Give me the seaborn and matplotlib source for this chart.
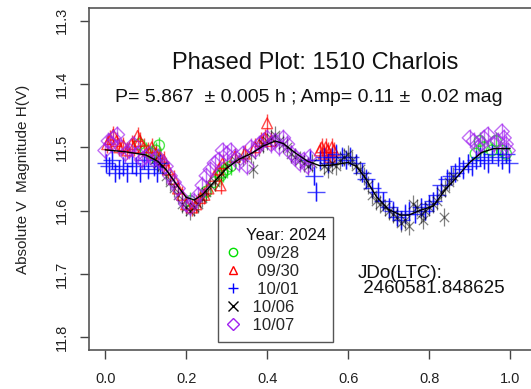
import matplotlib
matplotlib.use("Agg")
import matplotlib.pyplot as plt
import seaborn as sns
import numpy as np
import pandas as pd
from matplotlib.lines import Line2D
from matplotlib.patches import Rectangle

# ---------------- data ----------------
title = "Phased Plot: 1510 Charlois"
subtitle = "P= 5.867  \u00b1 0.005 h ; Amp= 0.11 \u00b1  0.02 mag"
jdo_text = "JDo(LTC):\n 2460581.848625"
legend_title = "Year: 2024"
series_labels = ["  09/28", "  09/30", "  10/01", " 10/06", " 10/07"]
x_ticks = [0.0, 0.2, 0.4, 0.6, 0.8, 1.0]
y_ticks = [11.3, 11.4, 11.5, 11.6, 11.7, 11.8]
y_label = "Absolute V  Magnitude H(V)"

g_phase = [0.085, 0.10, 0.115, 0.125, 0.133, 0.21, 0.25, 0.27, 0.285, 0.29, 0.30, 0.31,
           0.915, 0.925, 0.935, 0.955, 0.965, 0.98, 0.99]
g_mag = [11.495, 11.505, 11.51, 11.505, 11.497, 11.585, 11.57, 11.555, 11.545, 11.54, 11.535, 11.53,
         11.51, 11.49, 11.50, 11.505, 11.49, 11.505, 11.51]

r_phase = [0.005, 0.012, 0.02, 0.028, 0.035, 0.045, 0.055, 0.065, 0.07, 0.08, 0.085, 0.095,
           0.105, 0.115, 0.125, 0.135, 0.145, 0.155, 0.17, 0.18, 0.19, 0.20, 0.215, 0.225,
           0.235, 0.245, 0.255, 0.27, 0.28, 0.285, 0.29, 0.32, 0.345, 0.37, 0.385, 0.395,
           0.40, 0.41, 0.53, 0.535, 0.54, 0.545, 0.55, 0.555, 0.56, 0.565]
r_mag = [11.495, 11.487, 11.48, 11.49, 11.50, 11.497, 11.505, 11.495, 11.50, 11.482, 11.49, 11.50,
         11.505, 11.50, 11.51, 11.515, 11.52, 11.535, 11.55, 11.565, 11.575, 11.59, 11.595, 11.59,
         11.58, 11.575, 11.565, 11.545, 11.535, 11.56, 11.525, 11.515, 11.51, 11.50, 11.49, 11.485,
         11.462, 11.49, 11.505, 11.50, 11.51, 11.50, 11.505, 11.515, 11.50, 11.505]

b_phase = [0.003, 0.01, 0.018, 0.025, 0.035, 0.045, 0.055, 0.065, 0.075, 0.085, 0.095, 0.105,
           0.12, 0.128, 0.135,
           0.505, 0.515, 0.52, 0.53, 0.54, 0.55, 0.56, 0.57, 0.585, 0.595, 0.605, 0.62, 0.635,
           0.645, 0.66, 0.675, 0.685, 0.70, 0.71, 0.72, 0.73, 0.74, 0.75, 0.765, 0.78, 0.79,
           0.80, 0.81, 0.82, 0.83, 0.845, 0.855, 0.865,
           0.875, 0.885, 0.895, 0.905, 0.915, 0.925, 0.935, 0.945, 0.955, 0.97, 0.98, 0.99, 0.998]
b_mag = [11.525, 11.53, 11.52, 11.54, 11.535, 11.53, 11.54, 11.525, 11.53, 11.54, 11.52, 11.535,
         11.53, 11.54, 11.525,
         11.52, 11.545, 11.57, 11.52, 11.515, 11.525, 11.515, 11.51, 11.515, 11.52, 11.515, 11.525, 11.54,
         11.55, 11.565, 11.57, 11.585, 11.595, 11.60, 11.61, 11.615, 11.605, 11.60, 11.605, 11.595, 11.60,
         11.59, 11.585, 11.575, 11.56, 11.55, 11.545, 11.54,
         11.53, 11.535, 11.525, 11.53, 11.52, 11.515, 11.52, 11.525, 11.51, 11.515, 11.52, 11.51, 11.525]

k_phase = [0.12, 0.13, 0.14, 0.15, 0.16, 0.17, 0.18, 0.19, 0.20, 0.21, 0.22, 0.23, 0.24, 0.25,
           0.26, 0.27, 0.285, 0.30, 0.32, 0.34, 0.36, 0.365, 0.38, 0.39, 0.40, 0.41, 0.42, 0.43,
           0.44, 0.45, 0.46, 0.47, 0.48, 0.49, 0.50, 0.51,
           0.54, 0.55, 0.56, 0.57, 0.58, 0.59, 0.60, 0.61, 0.62, 0.63, 0.64, 0.65, 0.66, 0.67,
           0.68, 0.69, 0.70, 0.71, 0.72, 0.73, 0.74, 0.75, 0.76, 0.77, 0.78, 0.785, 0.79, 0.80,
           0.81, 0.82, 0.83, 0.838, 0.84, 0.85, 0.86]
k_mag = [11.52, 11.525, 11.53, 11.545, 11.555, 11.565, 11.575, 11.59, 11.595, 11.60, 11.595, 11.59,
         11.58, 11.57, 11.56, 11.555, 11.54, 11.53, 11.52, 11.515, 11.51, 11.535, 11.50, 11.495,
         11.49, 11.485, 11.48, 11.49, 11.495, 11.50, 11.51, 11.515, 11.52, 11.525, 11.53, 11.525,
         11.53, 11.535, 11.525, 11.53, 11.52, 11.515, 11.51, 11.52, 11.53, 11.535, 11.545, 11.56,
         11.575, 11.585, 11.59, 11.595, 11.60, 11.605, 11.61, 11.62, 11.615, 11.625, 11.59, 11.595,
         11.605, 11.615, 11.60, 11.595, 11.59, 11.585, 11.57, 11.61, 11.565, 11.555, 11.545]

p_phase = [0.0, 0.008, 0.015, 0.02, 0.03, 0.04, 0.05, 0.06, 0.07, 0.08, 0.09, 0.10, 0.11, 0.12,
           0.13, 0.14, 0.15, 0.16, 0.17, 0.18, 0.19, 0.20, 0.21, 0.22, 0.23, 0.24, 0.25, 0.26,
           0.27, 0.28, 0.29, 0.30, 0.31, 0.32, 0.33, 0.34, 0.35, 0.36, 0.37, 0.38, 0.39, 0.40,
           0.41, 0.42, 0.43, 0.44, 0.45, 0.46, 0.47, 0.48, 0.49, 0.50, 0.505,
           0.90, 0.91, 0.92, 0.93, 0.935, 0.945, 0.96, 0.97, 0.98, 0.985, 0.99, 0.995]
p_mag = [11.505, 11.49, 11.495, 11.485, 11.48, 11.50, 11.51, 11.505, 11.495, 11.51, 11.52, 11.515,
         11.51, 11.52, 11.515, 11.525, 11.53, 11.545, 11.555, 11.565, 11.58, 11.59, 11.595, 11.585,
         11.575, 11.56, 11.545, 11.535, 11.525, 11.52, 11.505, 11.51, 11.505, 11.515, 11.525, 11.51,
         11.53, 11.50, 11.505, 11.495, 11.49, 11.485, 11.495, 11.49, 11.50, 11.485, 11.495, 11.51,
         11.515, 11.525, 11.52, 11.53, 11.515,
         11.485, 11.49, 11.50, 11.495, 11.485, 11.48, 11.495, 11.49, 11.475, 11.485, 11.495, 11.505]

curve_phase = [0.00, 0.05, 0.10, 0.13, 0.15, 0.18, 0.20, 0.22, 0.24, 0.27, 0.30, 0.33, 0.36,
               0.39, 0.42, 0.44, 0.47, 0.50, 0.53, 0.56, 0.60, 0.62, 0.64, 0.67, 0.70, 0.73,
               0.75, 0.78, 0.81, 0.84, 0.87, 0.90, 0.93, 0.96, 1.00]
curve_mag = [11.504, 11.507, 11.512, 11.522, 11.535, 11.562, 11.579, 11.583, 11.575, 11.554,
             11.533, 11.519, 11.510, 11.498, 11.490, 11.494, 11.509, 11.522, 11.529, 11.528,
             11.524, 11.530, 11.546, 11.578, 11.598, 11.607, 11.607, 11.599, 11.593, 11.567,
             11.546, 11.524, 11.508, 11.502, 11.502]

mag_err = [0.014, 0.014, 0.015, 0.014, 0.014]

# ---------------- styling ----------------
sns.set_theme(style="white")
plt.rcParams["font.family"] = ["Liberation Sans", "DejaVu Sans"]

colors = ["#00e000", "#ff0000", "#0000ff", "#000000", "#a020f0"]
markers = ["o", "^", "+", "x", "D"]
sizes = [60, 60, 150, 45, 55]
alphas = [0.7, 0.7, 0.7, 0.5, 0.65]
lws = [1.0, 1.0, 1.0, 0.9, 1.0]
filled = [False, False, True, True, False]

W, H = 531, 389
fig = plt.figure(figsize=(W / 100, H / 100), dpi=100)
ax_left, ax_right, ax_top, ax_bottom = 89, 540, 8, 350
ax = fig.add_axes([ax_left / W, (H - ax_bottom) / H, (ax_right - ax_left) / W, (ax_bottom - ax_top) / H])

phases = [g_phase, r_phase, b_phase, k_phase, p_phase]
mags = [g_mag, r_mag, b_mag, k_mag, p_mag]

for i in [0, 1, 2, 3, 4]:
    df = pd.DataFrame({"phase": phases[i], "mag": mags[i]})
    ax.vlines(df["phase"], df["mag"] - mag_err[i], df["mag"] + mag_err[i],
              color=colors[i], lw=lws[i], alpha=alphas[i], zorder=2)
    if filled[i]:
        sns.scatterplot(data=df, x="phase", y="mag", marker=markers[i], s=sizes[i],
                        color=colors[i], linewidth=lws[i], alpha=alphas[i], ax=ax, zorder=3)
    else:
        sns.scatterplot(data=df, x="phase", y="mag", marker=markers[i], s=sizes[i],
                        color=colors[i], facecolor="none", edgecolor=colors[i],
                        linewidth=lws[i], alpha=alphas[i], ax=ax, zorder=3)

sns.lineplot(x=curve_phase, y=curve_mag, color="black", lw=1.0, sort=False, ax=ax, zorder=4)

ax.set_xlim(-0.04, 1.074)
ax.set_ylim(11.82, 11.28)
ax.set_xticks(x_ticks)
ax.set_xticklabels([f"{t:.1f}" for t in x_ticks])
ax.set_yticks(y_ticks)
ax.set_yticklabels([f"{t:.1f}" for t in y_ticks], rotation=90, va="center")
ax.tick_params(axis="both", direction="out", length=6.5, width=1.0, color="#444444",
               labelsize=10.5, labelcolor="#222222", bottom=True, left=True)
ax.tick_params(axis="x", pad=9)
ax.tick_params(axis="y", pad=8)
ax.set_xlabel("")
ax.set_ylabel(y_label, fontsize=11, color="#222222", labelpad=18)
for s in ax.spines.values():
    s.set_color("#555555")
    s.set_linewidth(1.2)


def px(x, y):
    return ((x - ax_left) / (ax_right - ax_left), (ax_bottom - y) / (ax_bottom - ax_top))


x0, y0 = px(315, 63)
ax.text(x0, y0, title, transform=ax.transAxes, fontsize=17, ha="center", va="center", color="#111111")
x0, y0 = px(309, 98)
ax.text(x0, y0, subtitle, transform=ax.transAxes, fontsize=14, ha="center", va="center", color="#111111")
x0, y0 = px(358, 281)
ax.text(x0, y0, jdo_text, transform=ax.transAxes, fontsize=13.5, ha="left", va="center",
        color="#111111", linespacing=0.9)

# legend: frame, title and entries
fx0, fy0 = px(218, 342)
fx1, fy1 = px(333, 217)
ax.add_patch(Rectangle((fx0, fy0), fx1 - fx0, fy1 - fy0, transform=ax.transAxes,
                       facecolor="white", edgecolor="#555555", lw=1.0, zorder=5))
tx, ty = px(286, 235)
ax.text(tx, ty, legend_title, transform=ax.transAxes, fontsize=12, ha="center", va="center",
        color="#111111", zorder=6)

handles = []
for i in range(5):
    handles.append(Line2D([], [], linestyle="none", marker=markers[i], color=colors[i],
                          markerfacecolor="none", markersize=7 if markers[i] in "+x" else 6,
                          markeredgewidth=1.0))
lx, ly = px(223, 289)
leg = ax.legend(handles, series_labels, loc="center left",
                bbox_to_anchor=(lx, ly), borderaxespad=0, frameon=False,
                fontsize=12, labelspacing=0.18, handletextpad=0.3,
                handlelength=1.2, borderpad=0)
leg.set_zorder(7)

fig.savefig("out.png", dpi=100)
